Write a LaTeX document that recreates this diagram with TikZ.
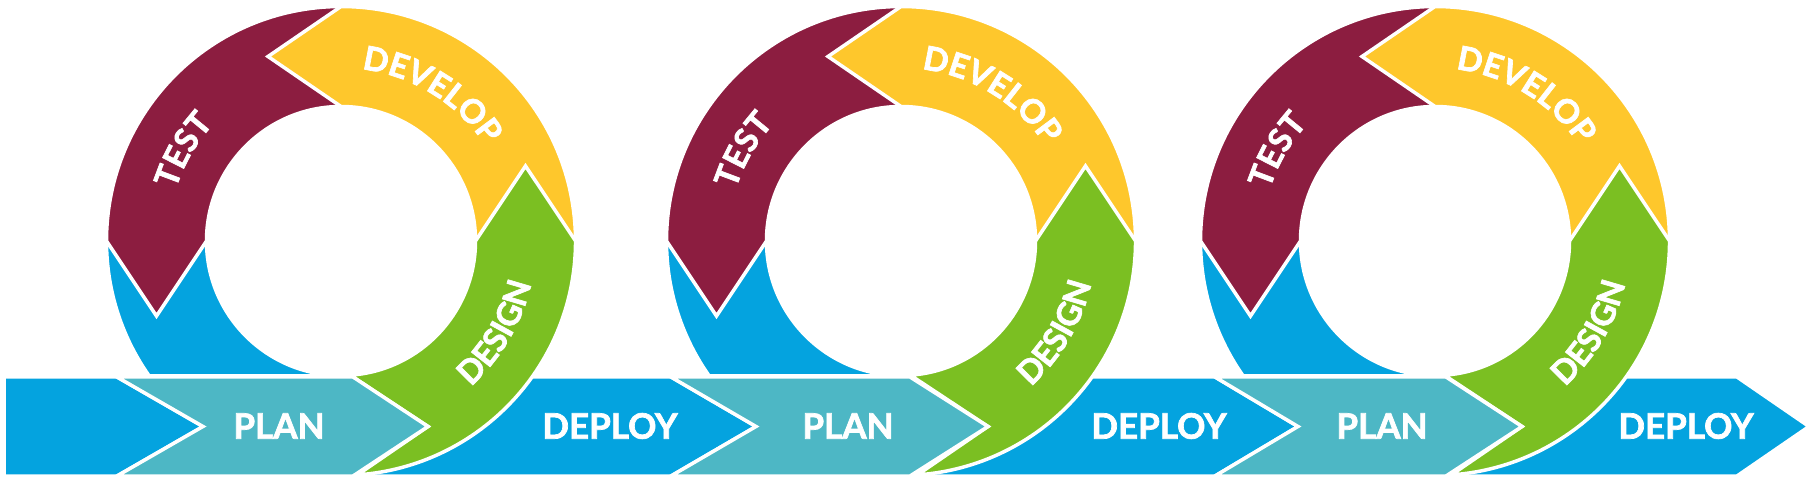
\documentclass[tikz,border=0pt]{standalone}
\usepackage{fontspec}
\setmainfont{Lato}[BoldFont={Lato Bold},BoldFeatures={FakeBold=2}]
\usetikzlibrary{decorations.text}
\definecolor{testred}{HTML}{8C1D40}
\definecolor{devyellow}{HTML}{FEC72C}
\definecolor{designgreen}{HTML}{7BBF22}
\definecolor{deployblue}{HTML}{04A3DF}
\definecolor{planteal}{HTML}{4DB7C5}
\begin{document}
\begin{tikzpicture}[x=1pt,y=1pt,
		piece/.style={draw=white,line width=3.5pt},
		barlabel/.style={text=white,inner sep=0pt,font=\fontsize{35}{40}\selectfont\bfseries},
		ringlabel/.style={decorate,decoration={text along path,text align=center,
			text={|\color{white}\fontsize{33}{33}\selectfont\bfseries|#1}}}]
		 \useasboundingbox (0,0) rectangle (1816,493);

		 % Draw the deploy bars
		 \draw[piece,fill=deployblue] (4,116) -- (117,116) -- (203,66.5) -- (117,17) -- (4,17) -- cycle;
		 \draw[piece,fill=deployblue] (353,116) -- (671,116) -- (756,66.5) -- (671,17) -- (353,17) -- (428,66.5) -- cycle;
		 \draw[piece,fill=deployblue] (910,116) -- (1215,116) -- (1298,66.5) -- (1215,17) -- (910,17) -- (988,66.5) -- cycle;
		 \draw[piece,fill=deployblue] (1446,116) -- (1737,116) -- (1809,66.5) -- (1737,17) -- (1446,17) -- (1522,66.5) -- cycle;

		 % Draw the rings
		 \foreach \cx in {341,901,1435}{
		 	\begin{scope}
		 		\clip (\cx-240,119) rectangle (\cx+240,260);
		 		\draw[piece,fill=deployblue] (\cx-234.5,252) arc[start angle=180,end angle=270,radius=234.5]
		 			-- (\cx,117.5) arc[start angle=270,end angle=180,radius=134.5] -- cycle;
		 	\end{scope}
		 	\draw[piece,fill=testred] (\cx,486.5) arc[start angle=90,end angle=180,radius=234.5]
		 		-- (\cx-184.5,177) -- (\cx-134.5,252) arc[start angle=180,end angle=90,radius=134.5] -- cycle;
		 	\draw[piece,fill=devyellow] (\cx+234.5,252) arc[start angle=0,end angle=90,radius=234.5]
		 		-- (\cx-73,436.5) -- (\cx,386.5) arc[start angle=90,end angle=0,radius=134.5] -- cycle;
		 	\draw[piece,fill=designgreen] (\cx+16.4,18.1) arc[start angle=-86,end angle=0,radius=234.5]
		 		-- (\cx+184.5,327) -- (\cx+134.5,252) arc[start angle=0,end angle=-86,radius=134.5]
		 		-- (\cx+87,66.5) -- cycle;

		 	% Label the rings
		 	\path[ringlabel=TEST] ([shift={(\cx,252)}]190:173) arc[start angle=190,end angle=110,radius=173];
		 	\path[ringlabel=DEVELOP] ([shift={(\cx,252)}]100:173) arc[start angle=100,end angle=16.5,radius=173];
		 	\path[ringlabel=DESIGN] ([shift={(\cx,252)}]-71:195) arc[start angle=-71,end angle=10,radius=195];
		 }

		 % Draw the plan bars
		 \draw[piece,fill=planteal] (117,116) -- (353,116) -- (428,66.5) -- (353,17) -- (117,17) -- (203,66.5) -- cycle;
		 \draw[piece,fill=planteal] (671,116) -- (910,116) -- (988,66.5) -- (910,17) -- (671,17) -- (756,66.5) -- cycle;
		 \draw[piece,fill=planteal] (1215,116) -- (1446,116) -- (1522,66.5) -- (1446,17) -- (1215,17) -- (1298,66.5) -- cycle;

		 % Label the bars
		 \node[barlabel] (plan1) at (279,67) {PLAN};
		 \node[barlabel] (plan2) at (848,67) {PLAN};
		 \node[barlabel] (plan3) at (1382,67) {PLAN};
		 \node[barlabel] (deploy1) at (610,67) {DEPLOY};
		 \node[barlabel] (deploy2) at (1159,67) {DEPLOY};
		 \node[barlabel] (deploy3) at (1686,67) {DEPLOY};
\end{tikzpicture}
\end{document}
